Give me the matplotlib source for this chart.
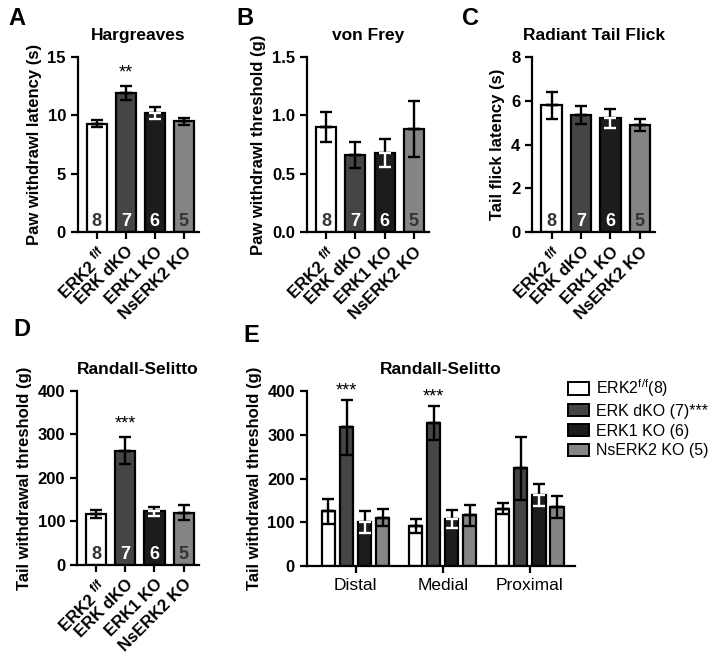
import numpy as np
import matplotlib
matplotlib.use("Agg")
import matplotlib.pyplot as plt
from matplotlib.patches import Patch

plt.rcParams['font.family'] = ['Liberation Sans', 'DejaVu Sans']
plt.rcParams['mathtext.fontset'] = 'custom'
plt.rcParams['mathtext.rm'] = 'Liberation Sans'
plt.rcParams['mathtext.bf'] = 'Liberation Sans:bold'

# data
groups = [r'ERK2 $^{\mathbf{f/f}}$', 'ERK dKO', 'ERK1 KO', 'NsERK2 KO']
legend_labels = [r'ERK2$^{\mathrm{f/f}}$(8)', 'ERK dKO (7)***', 'ERK1 KO (6)', 'NsERK2 KO (5)']
n_mice = ['8', '7', '6', '5']
colors = ['white', '#454545', '#1c1c1c', '#858585']
num_colors = ['#333333', 'white', 'white', '#333333']

harg_mean = [9.3, 11.9, 10.2, 9.5]
harg_err = [0.3, 0.6, 0.5, 0.3]
vf_mean = [0.90, 0.66, 0.68, 0.88]
vf_err = [0.13, 0.11, 0.12, 0.24]
tf_mean = [5.8, 5.35, 5.2, 4.9]
tf_err = [0.62, 0.42, 0.45, 0.28]
rs_mean = [116, 263, 123, 120]
rs_err = [9, 30, 11, 17]

sites = ['Distal', 'Medial', 'Proximal']
rs_site_mean = [[125, 91, 131], [317, 327, 223], [100, 108, 163], [111, 116, 135]]
rs_site_err = [[28, 16, 13], [63, 38, 73], [25, 20, 25], [20, 24, 25]]


def style_axes(ax):
    for s in ['top', 'right']:
        ax.spines[s].set_visible(False)
    for s in ['left', 'bottom']:
        ax.spines[s].set_linewidth(1.6)
    ax.tick_params(width=1.6, length=5, labelsize=12)
    for lab in ax.get_yticklabels():
        lab.set_fontweight('bold')


def draw_bars(ax, x, means, errs, width, cols):
    ax.bar(x, means, width=width, color=cols, edgecolor='black', linewidth=1.6, zorder=2)
    for xi, m, e, c in zip(x, means, errs, cols):
        ax.errorbar([xi], [m], yerr=[[0], [e]], fmt='none', ecolor='black',
                    elinewidth=1.7, capsize=4.5, capthick=1.7, zorder=3)
        # lower half of the bar drawn white on the black bars
        low = 'white' if c == '#1c1c1c' else 'black'
        ax.errorbar([xi], [m], yerr=[[e], [0]], fmt='none', ecolor=low,
                    elinewidth=1.7, capsize=4.5, capthick=1.7, zorder=3)


def simple_panel(ax, means, errs, ymax, yticks, ylabel, title, yfmt):
    x = np.arange(len(groups))
    draw_bars(ax, x, means, errs, 0.69, colors)
    for xi, n, nc in zip(x, n_mice, num_colors):
        ax.text(xi, 0.012, n, transform=ax.get_xaxis_transform(), ha='center', va='bottom',
                color=nc, fontsize=13, fontweight='bold', zorder=4)
    ax.set_xlim(-0.66, 3.52)
    ax.set_ylim(0, ymax)
    ax.set_yticks(yticks)
    ax.set_yticklabels([yfmt.format(t) for t in yticks])
    ax.set_xticks(x)
    ax.set_xticklabels(groups, rotation=45, ha='right', rotation_mode='anchor',
                       fontweight='bold', fontsize=12)
    ax.set_ylabel(ylabel, fontsize=12, fontweight='bold')
    ax.set_title(title, fontsize=12.5, fontweight='bold', pad=12)
    style_axes(ax)


fig = plt.figure(figsize=(7.2, 6.56), dpi=100)

axA = fig.add_axes([0.108, 0.646, 0.168, 0.267])
simple_panel(axA, harg_mean, harg_err, 15, [0, 5, 10, 15], 'Paw withdrawl latency (s)', 'Hargreaves', '{:g}')
axA.text(1, 13.6, '**', ha='center', va='center', fontsize=13)

axB = fig.add_axes([0.426, 0.646, 0.170, 0.267])
simple_panel(axB, vf_mean, vf_err, 1.5, [0, 0.5, 1.0, 1.5], 'Paw withdrawl threshold (g)', 'von Frey', '{:.1f}')

axC = fig.add_axes([0.739, 0.646, 0.171, 0.267])
simple_panel(axC, tf_mean, tf_err, 8, [0, 2, 4, 6, 8], 'Tail flick latency (s)', 'Radiant Tail Flick', '{:g}')

axD = fig.add_axes([0.107, 0.139, 0.169, 0.265])
simple_panel(axD, rs_mean, rs_err, 400, [0, 100, 200, 300, 400], 'Tail withdrawal threshold (g)', 'Randall-Selitto', '{:g}')
axD.text(1, 325, '***', ha='center', va='center', fontsize=13)

# panel E
axE = fig.add_axes([0.426, 0.137, 0.373, 0.267])
gx = np.arange(len(sites))
offsets = [-1.5, -0.5, 0.5, 1.5]
for i in range(len(groups)):
    draw_bars(axE, gx + offsets[i] * 0.207, rs_site_mean[i], rs_site_err[i], 0.15, [colors[i]] * len(sites))
axE.text(0 - 0.5 * 0.207, 400, '***', ha='center', va='center', fontsize=13)
axE.text(1 - 0.5 * 0.207, 386, '***', ha='center', va='center', fontsize=13)
axE.set_xlim(-0.56, 2.52)
axE.set_ylim(0, 400)
axE.set_yticks([0, 100, 200, 300, 400])
axE.set_xticks(gx)
axE.set_xticklabels(sites)
axE.set_ylabel('Tail withdrawal threshold (g)', fontsize=12, fontweight='bold')
axE.set_title('Randall-Selitto', fontsize=12.5, fontweight='bold', pad=12)
style_axes(axE)
axE.tick_params(axis='x', labelsize=12.5)

handles = [Patch(facecolor=c, edgecolor='black', linewidth=1.4) for c in colors]
fig.legend(handles, legend_labels, loc='upper left', bbox_to_anchor=(0.778, 0.437),
           frameon=False, fontsize=11.5, handlelength=1.3, handleheight=0.8,
           handletextpad=0.45, labelspacing=0.3, borderpad=0)

for letter, (lx, ly) in zip('ABCDE', [(0.012, 0.99), (0.328, 0.99), (0.642, 0.99),
                                      (0.018, 0.516), (0.338, 0.506)]):
    fig.text(lx, ly, letter, fontsize=17, fontweight='bold', va='top')

fig.savefig('out.png', dpi=100)
